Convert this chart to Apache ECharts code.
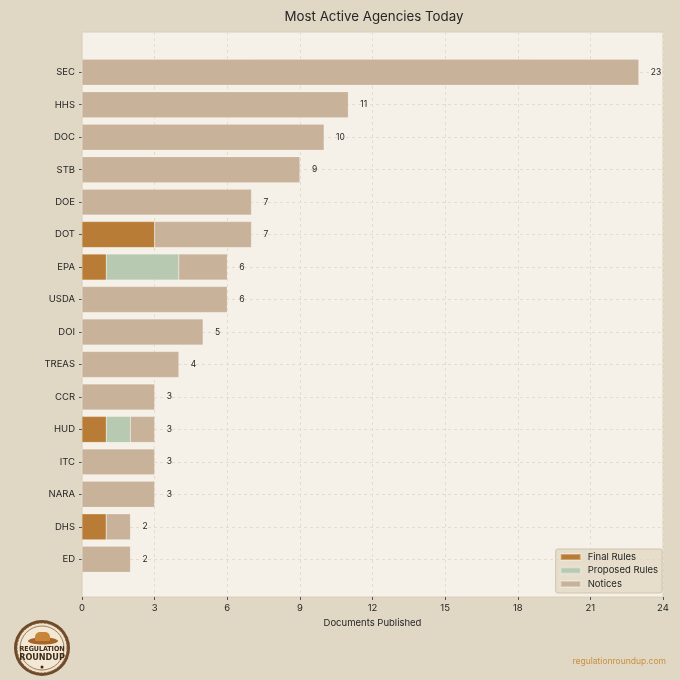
<!DOCTYPE html>
<html>
<head>
<meta charset="utf-8">
<script src="https://cdn.jsdelivr.net/npm/echarts@6/dist/echarts.min.js"></script>
<style>
html,body{margin:0;padding:0;background:#e0d8c4;}
#c{width:680px;height:680px;}
</style>
</head>
<body>
<div id="c"></div>
<script>
const agencies = ['SEC','HHS','DOC','STB','DOE','DOT','EPA','USDA','DOI','TREAS','CCR','HUD','ITC','NARA','DHS','ED'];
const finalRules    = [0,0,0,0,0,3,1,0,0,0,0,1,0,0,1,0];
const proposedRules = [0,0,0,0,0,0,3,0,0,0,0,1,0,0,0,0];
const notices       = [23,11,10,9,7,4,2,6,5,4,3,1,3,3,1,2];
const xTicks = [0,3,6,9,12,15,18,21,24];
const totals = agencies.map((_, i) => finalRules[i] + proposedRules[i] + notices[i]);

const FONT = 'Inter, "DejaVu Sans", sans-serif';
const TXT = '#262626';
const GRIDC = '#e5dccd';

const chart = echarts.init(document.getElementById('c'), null, {renderer: 'canvas'});

const gridL = 82, gridR = 17, gridT = 32, gridB = 83;
const band = 32.47;
const innerT = 56, innerB = 680 - (56 + band * agencies.length);

chart.setOption({
  backgroundColor: '#e0d8c4',
  animation: false,
  textStyle: {fontFamily: FONT},
  title: {
    text: 'Most Active Agencies Today',
    left: 369, top: 5, textAlign: 'center',
    textStyle: {fontFamily: FONT, fontSize: 13.3, fontWeight: 'normal', color: TXT}
  },
  legend: {
    orient: 'vertical',
    right: 18, bottom: 87,
    icon: 'rect',
    itemWidth: 20, itemHeight: 6, itemGap: 1.5,
    padding: [2, 4, 3, 4],
    backgroundColor: 'rgba(224,214,194,0.75)',
    borderColor: '#cfc3ac', borderWidth: 1, borderRadius: 2,
    textStyle: {fontFamily: FONT, fontSize: 9.5, color: TXT, lineHeight: 12, padding: [0, 0, 0, 2]},
    data: ['Final Rules', 'Proposed Rules', 'Notices']
  },
  grid: [
    {left: gridL, right: gridR, top: gridT, bottom: gridB, show: true,
     backgroundColor: '#f6f1e8', borderColor: '#d8ccb6', borderWidth: 1},
    {left: gridL, right: gridR, top: innerT, bottom: innerB, show: false}
  ],
  xAxis: [
    {gridIndex: 0, type: 'value', min: 0, max: 24, interval: 3,
     name: 'Documents Published', nameLocation: 'middle', nameGap: 21,
     nameTextStyle: {fontFamily: FONT, fontSize: 9.5, color: TXT},
     axisLine: {show: false},
     axisTick: {show: true, length: 3, lineStyle: {color: '#555'}},
     axisLabel: {fontFamily: FONT, fontSize: 9.5, color: TXT, margin: 6},
     splitLine: {show: true, lineStyle: {color: GRIDC, type: [3, 3], width: 1}}},
    {gridIndex: 1, type: 'value', min: 0, max: 24, interval: 3, show: false,
     splitLine: {show: false}}
  ],
  yAxis: [
    {gridIndex: 0, type: 'value', min: 0, max: 1, show: false, splitLine: {show: false}},
    {gridIndex: 1, type: 'category', inverse: true, data: agencies,
     axisLine: {show: false},
     axisTick: {show: true, length: 3, alignWithLabel: true, lineStyle: {color: '#555'}},
     axisLabel: {fontFamily: FONT, fontSize: 9.5, color: TXT, margin: 7},
     splitLine: {show: true, alignWithLabel: true, lineStyle: {color: GRIDC, type: [3, 3], width: 1}}}
  ],
  series: [
    {name: 'Final Rules', type: 'bar', stack: 'docs', xAxisIndex: 1, yAxisIndex: 1,
     barCategoryGap: '20%', data: finalRules,
     itemStyle: {color: '#b97c36', borderColor: 'rgba(255,255,255,0.3)', borderWidth: 0.5}},
    {name: 'Proposed Rules', type: 'bar', stack: 'docs', xAxisIndex: 1, yAxisIndex: 1,
     barCategoryGap: '20%', data: proposedRules,
     itemStyle: {color: '#b7c9b0', borderColor: 'rgba(255,255,255,0.3)', borderWidth: 0.5}},
    {name: 'Notices', type: 'bar', stack: 'docs', xAxisIndex: 1, yAxisIndex: 1,
     barCategoryGap: '20%', data: notices,
     itemStyle: {color: '#c9b29a', borderColor: 'rgba(255,255,255,0.3)', borderWidth: 0.5},
     label: {show: true, position: 'right', distance: 12,
       fontFamily: FONT, fontSize: 8.5, color: TXT,
       formatter: p => String(totals[p.dataIndex])}}
  ],
  graphic: [
    {type: 'text', right: 14, top: 657,
     style: {text: 'regulationroundup.com', fontFamily: FONT, fontSize: 8.5, fill: '#c98f3c'}},
    {type: 'group', left: 14, top: 620, children: [
      {type: 'circle', shape: {cx: 28, cy: 29, r: 28}, style: {fill: '#6e4a2c'}},
      {type: 'circle', shape: {cx: 28, cy: 29, r: 25}, style: {fill: '#efe3cc', stroke: '#8a6440', lineWidth: 1, lineDash: [2, 1.5]}},
      {type: 'circle', shape: {cx: 28, cy: 29, r: 22}, style: {fill: '#f3e8d3', stroke: '#8a6440', lineWidth: 0.8}},
      {type: 'ellipse', shape: {cx: 29, cy: 22, rx: 15, ry: 3.5}, style: {fill: '#a8652a'}},
      {type: 'rect', shape: {x: 21, y: 13, width: 15, height: 9, r: [5, 5, 1, 1]}, style: {fill: '#c9853a'}},
      {type: 'text', x: 28, y: 30, style: {text: 'REGULATION', fontFamily: '"DejaVu Sans Condensed", "DejaVu Sans", sans-serif', fontWeight: 'bold', fontSize: 7, fill: '#3d2a1a', align: 'center', verticalAlign: 'middle'}},
      {type: 'text', x: 28, y: 39, style: {text: 'ROUNDUP', fontFamily: '"DejaVu Sans Condensed", "DejaVu Sans", sans-serif', fontWeight: 'bold', fontSize: 9, fill: '#3d2a1a', align: 'center', verticalAlign: 'middle'}},
      {type: 'circle', shape: {cx: 28, cy: 48, r: 1.5}, style: {fill: '#3d2a1a'}}
    ]}
  ]
});
</script>
</body>
</html>
